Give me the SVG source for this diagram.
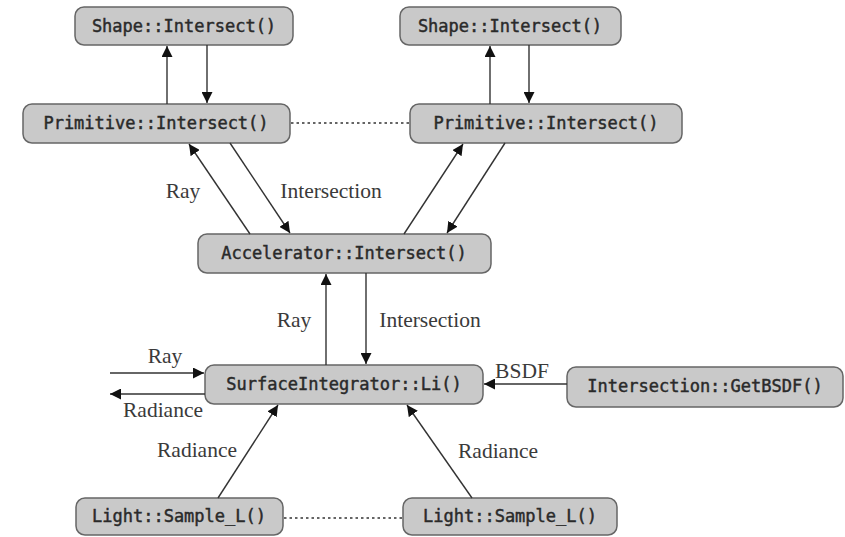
<svg xmlns="http://www.w3.org/2000/svg" width="845" height="537" viewBox="0 0 845 537">
<defs>
<marker id="ah" viewBox="0 0 10 10" refX="10" refY="5" markerWidth="11" markerHeight="11" markerUnits="userSpaceOnUse" orient="auto">
<path d="M0,0 L10,5 L0,10 Z" fill="#111"/>
</marker>
<style>
.box{fill:#c9c9c9;stroke:#666;stroke-width:1.5}
.nt{font-family:"DejaVu Sans Mono","Liberation Mono",monospace;font-size:17px;fill:#2a2a2a;stroke:#2a2a2a;stroke-width:0.45;text-anchor:middle}
.lb{font-family:"Liberation Serif","Times New Roman",serif;font-size:21.5px;fill:#3a3a3a;text-anchor:middle}
.c{stroke:#333;stroke-width:1.4;fill:none;marker-end:url(#ah)}
.d{stroke:#333;stroke-width:1.6;fill:none;stroke-dasharray:2.5 3}
</style>
</defs>
<rect width="845" height="537" fill="#fff"/>
<g id="shape1"><rect class="box" x="75" y="7" width="218" height="38" rx="9"/><text class="nt" x="184" y="32">Shape::Intersect()</text></g>
<g id="shape2"><rect class="box" x="400" y="7" width="221" height="38" rx="9"/><text class="nt" x="510" y="32">Shape::Intersect()</text></g>
<g id="prim1"><rect class="box" x="23" y="104" width="267" height="39" rx="9"/><text class="nt" x="156" y="129">Primitive::Intersect()</text></g>
<g id="prim2"><rect class="box" x="410" y="104" width="272" height="39" rx="9"/><text class="nt" x="546" y="129">Primitive::Intersect()</text></g>
<g id="accel"><rect class="box" x="198" y="234" width="293" height="39" rx="9"/><text class="nt" x="344" y="259">Accelerator::Intersect()</text></g>
<g id="surf"><rect class="box" x="205" y="365" width="278" height="39" rx="9"/><text class="nt" x="344" y="390">SurfaceIntegrator::Li()</text></g>
<g id="bsdf"><rect class="box" x="567" y="367" width="276" height="40" rx="9"/><text class="nt" x="705" y="392">Intersection::GetBSDF()</text></g>
<g id="light1"><rect class="box" x="76" y="498" width="207" height="37" rx="9"/><text class="nt" x="179" y="522">Light::Sample_L()</text></g>
<g id="light2"><rect class="box" x="403" y="498" width="214" height="37" rx="9"/><text class="nt" x="510" y="522">Light::Sample_L()</text></g>
<g id="connectors">
<line class="c" x1="167" y1="104" x2="167" y2="46"/>
<line class="c" x1="207" y1="45" x2="207" y2="103"/>
<line class="c" x1="490" y1="104" x2="490" y2="46"/>
<line class="c" x1="529" y1="45" x2="529" y2="103"/>
<line class="d" x1="291" y1="123" x2="409" y2="123"/>
<line class="c" x1="250" y1="234" x2="189" y2="144"/>
<line class="c" x1="230" y1="143" x2="290" y2="233"/>
<line class="c" x1="404" y1="234" x2="463" y2="144"/>
<line class="c" x1="505" y1="143" x2="447" y2="233"/>
<line class="c" x1="326" y1="365" x2="326" y2="274"/>
<line class="c" x1="366" y1="273" x2="366" y2="364"/>
<line class="c" x1="110" y1="373" x2="204" y2="373"/>
<line class="c" x1="205" y1="394" x2="110" y2="394"/>
<line class="c" x1="567" y1="384" x2="484" y2="384"/>
<line class="c" x1="218" y1="498" x2="278" y2="405"/>
<line class="c" x1="472" y1="498" x2="407" y2="405"/>
<line class="d" x1="284" y1="518" x2="402" y2="518"/>
</g>
<g id="labels">
<text class="lb" x="183" y="198">Ray</text>
<text class="lb" x="331" y="198">Intersection</text>
<text class="lb" x="294" y="327">Ray</text>
<text class="lb" x="430" y="327">Intersection</text>
<text class="lb" x="165" y="363">Ray</text>
<text class="lb" x="163" y="417">Radiance</text>
<text class="lb" x="522" y="378">BSDF</text>
<text class="lb" x="197" y="457">Radiance</text>
<text class="lb" x="498" y="458">Radiance</text>
</g>
</svg>
